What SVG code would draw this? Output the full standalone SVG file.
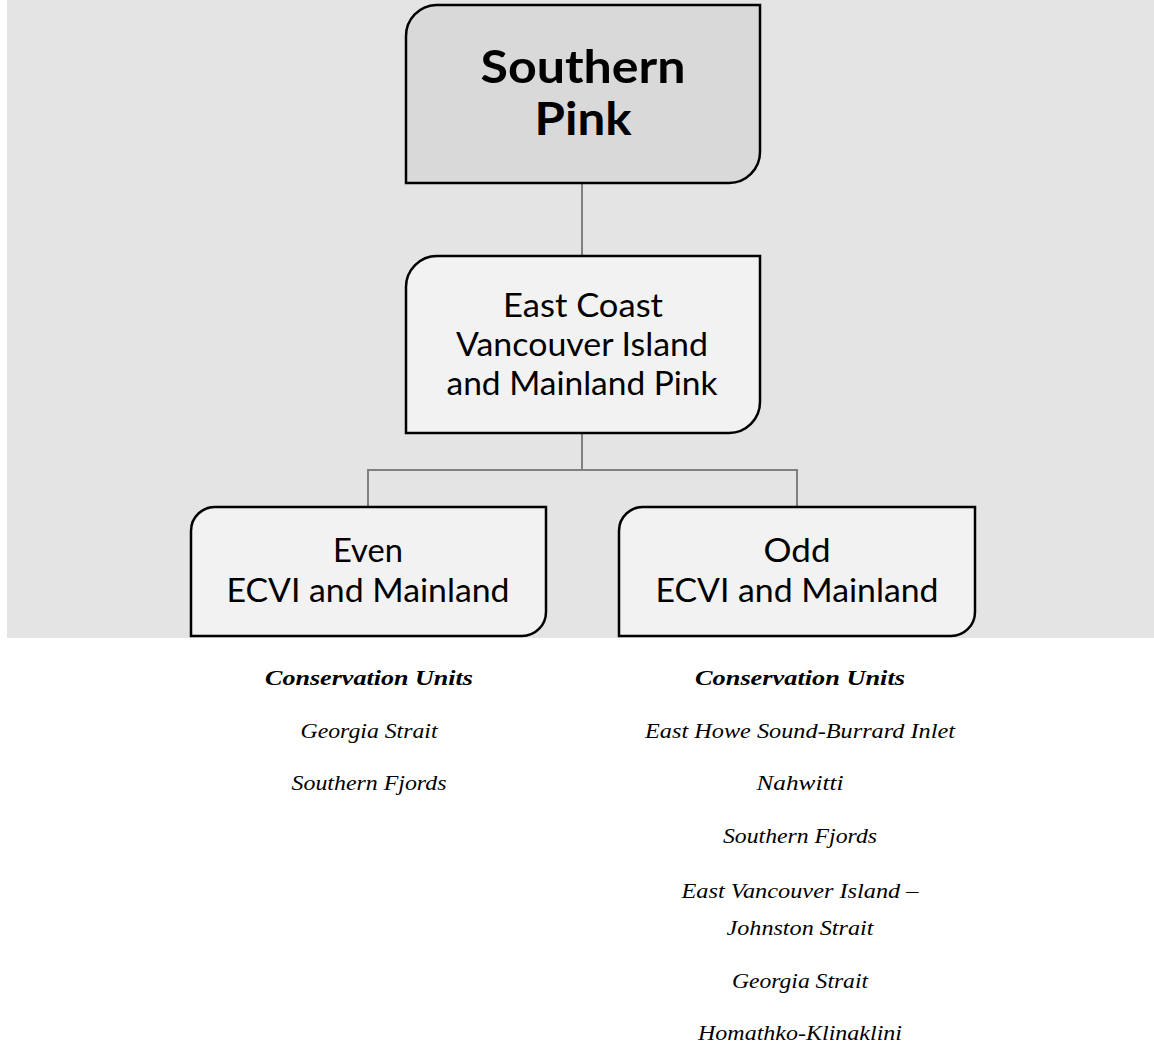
<svg xmlns="http://www.w3.org/2000/svg" width="1154" height="1045" viewBox="0 0 1154 1045">
<style>
.node{stroke:#000;stroke-width:2.5}
.top{fill:#d9d9d9}
.sub{fill:#f2f2f2}
.lbl{font-family:Lato,"Open Sans","DejaVu Sans",sans-serif;fill:#000;text-anchor:middle}
.conn{fill:none;stroke:#808080;stroke-width:2}
.cu{font-family:"Liberation Serif","DejaVu Serif",serif;font-style:italic;font-size:21px;text-anchor:middle;fill:#000}
.cuh{font-weight:bold}
</style>
<rect x="7" y="0" width="1147" height="638" fill="#e4e4e4"/>
<g id="connectors">
<line class="conn" x1="582" y1="183" x2="582" y2="256"/>
<polyline class="conn" points="582,433 582,470 368,470 368,507"/>
<polyline class="conn" points="582,470 797,470 797,507"/>
</g>
<g id="node-southern-pink">
<path class="node top" d="M436,5 H760 V152 A31,31 0 0 1 729,183 H406 V36 A31,31 0 0 1 436,5 Z"/>
<text class="lbl" x="583" y="83" font-size="46" font-weight="bold" textLength="205" lengthAdjust="spacingAndGlyphs">Southern</text>
<text class="lbl" x="583" y="135" font-size="46" font-weight="bold" textLength="97" lengthAdjust="spacingAndGlyphs">Pink</text>
</g>
<g id="node-ecvi">
<path class="node sub" d="M437,256 H760 V402 A31,31 0 0 1 729,433 H406 V287 A31,31 0 0 1 437,256 Z"/>
<text class="lbl" x="583" y="317" font-size="32" textLength="160" lengthAdjust="spacingAndGlyphs">East Coast</text>
<text class="lbl" x="582" y="356" font-size="32" textLength="252" lengthAdjust="spacingAndGlyphs">Vancouver Island</text>
<text class="lbl" x="582" y="395" font-size="32" textLength="271" lengthAdjust="spacingAndGlyphs">and Mainland Pink</text>
</g>
<g id="node-even">
<path class="node sub" d="M217,507 H546 V612 A24,24 0 0 1 522,636 H191 V531 A24,24 0 0 1 217,507 Z"/>
<text class="lbl" x="368" y="562" font-size="32" textLength="70" lengthAdjust="spacingAndGlyphs">Even</text>
<text class="lbl" x="368" y="602" font-size="32" textLength="283" lengthAdjust="spacingAndGlyphs">ECVI and Mainland</text>
</g>
<g id="node-odd">
<path class="node sub" d="M645,507 H975 V612 A24,24 0 0 1 951,636 H619 V531 A24,24 0 0 1 645,507 Z"/>
<text class="lbl" x="797" y="562" font-size="32" textLength="67" lengthAdjust="spacingAndGlyphs">Odd</text>
<text class="lbl" x="797" y="602" font-size="32" textLength="283" lengthAdjust="spacingAndGlyphs">ECVI and Mainland</text>
</g>
<g id="cu-even">
<text class="cu cuh" x="369" y="685" textLength="208" lengthAdjust="spacingAndGlyphs">Conservation Units</text>
<text class="cu" x="369" y="738" textLength="137" lengthAdjust="spacingAndGlyphs">Georgia Strait</text>
<text class="cu" x="369" y="790" textLength="155" lengthAdjust="spacingAndGlyphs">Southern Fjords</text>
</g>
<g id="cu-odd">
<text class="cu cuh" x="800" y="685" textLength="210" lengthAdjust="spacingAndGlyphs">Conservation Units</text>
<text class="cu" x="800" y="738" textLength="310" lengthAdjust="spacingAndGlyphs">East Howe Sound-Burrard Inlet</text>
<text class="cu" x="800" y="790" textLength="87" lengthAdjust="spacingAndGlyphs">Nahwitti</text>
<text class="cu" x="800" y="843" textLength="154" lengthAdjust="spacingAndGlyphs">Southern Fjords</text>
<text class="cu" x="800" y="898" textLength="237" lengthAdjust="spacingAndGlyphs">East Vancouver Island –</text>
<text class="cu" x="800" y="935" textLength="147" lengthAdjust="spacingAndGlyphs">Johnston Strait</text>
<text class="cu" x="800" y="988" textLength="136" lengthAdjust="spacingAndGlyphs">Georgia Strait</text>
<text class="cu" x="800" y="1040" textLength="204" lengthAdjust="spacingAndGlyphs">Homathko-Klinaklini</text>
</g>
</svg>
